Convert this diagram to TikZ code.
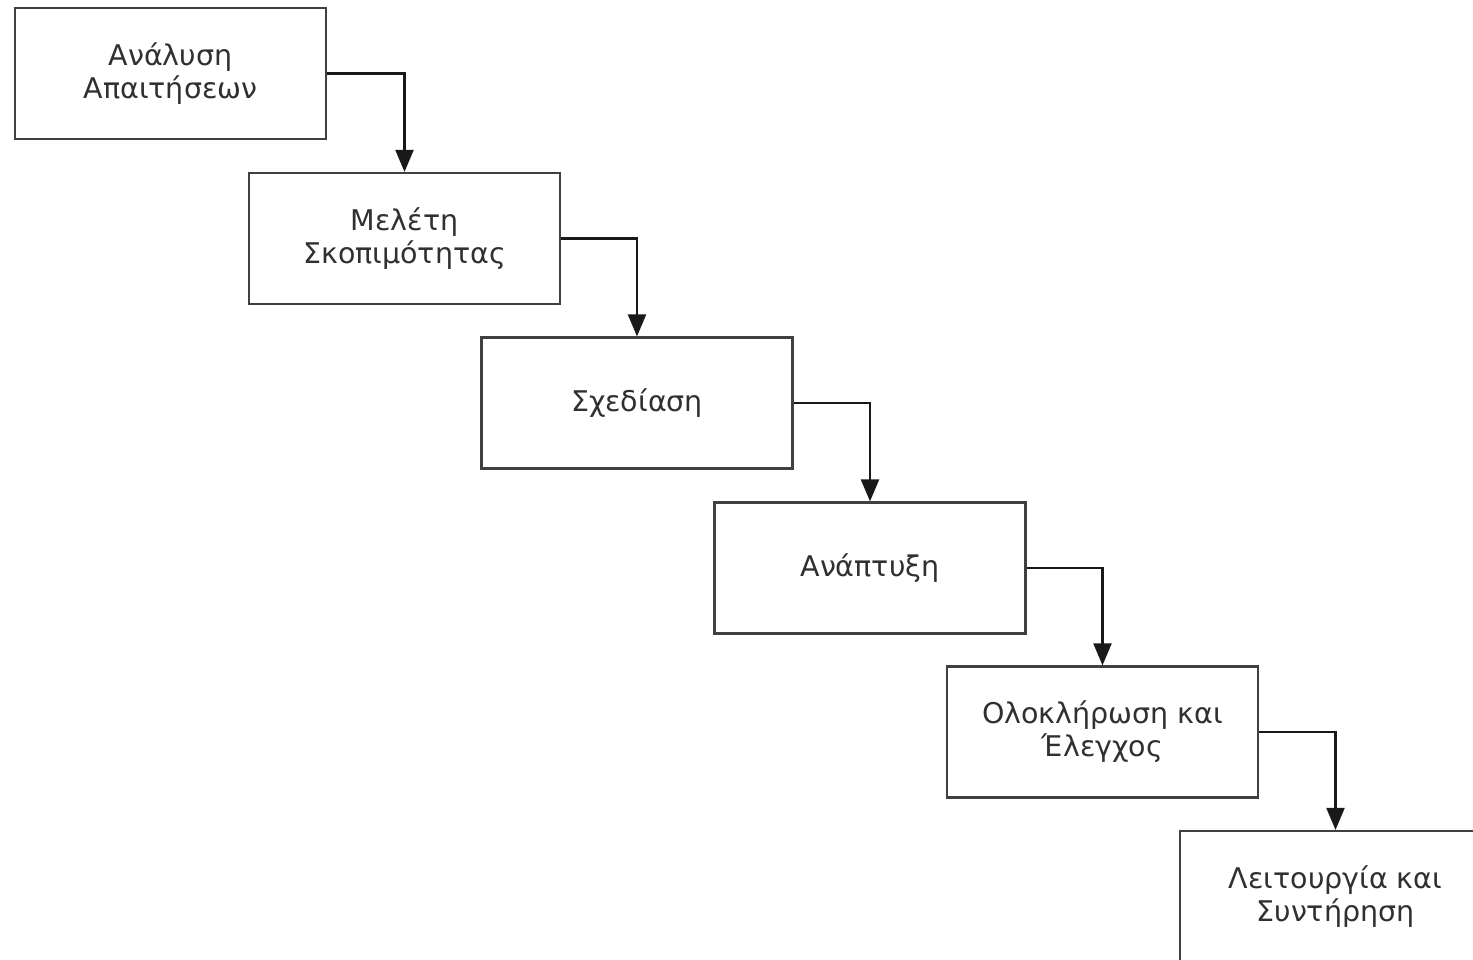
\documentclass[tikz,border=0pt]{standalone}
\usepackage{fontspec}
\setmainfont{DejaVu Sans}
\usetikzlibrary{arrows.meta}
\definecolor{edge}{HTML}{404040}
\definecolor{ink}{HTML}{303030}
\tikzset{
  stage/.style={draw=edge, line width=2.2pt, minimum width=311pt, minimum height=131pt,
    inner sep=0pt, align=center, text=ink, font=\fontsize{28.5}{33}\selectfont},
  flow/.style={draw=black!90, line width=2.2pt,
    -{Triangle[length=22pt,width=18pt]}}
}
\begin{document}
\begin{tikzpicture}[x=1pt,y=-1pt]
\useasboundingbox (0,0) rectangle (1473,960);
\fill[white] (0,0) rectangle (1473,960);
\clip (0,0) rectangle (1473,960);
\node[stage] (b1) at (170.5,73.5)  {Ανάλυση\\Απαιτήσεων};
\node[stage] (b2) at (404.5,238.5) {Μελέτη\\Σκοπιμότητας};
\node[stage] (b3) at (637,403)     {Σχεδίαση};
\node[stage] (b4) at (870,568)     {Ανάπτυξη};
\node[stage] (b5) at (1102.5,732)  {Ολοκλήρωση και\\Έλεγχος};
\node[stage] (b6) at (1335.5,896.5) {Λειτουργία και\\Συντήρηση};
\draw[flow] (b1.east) -| (b2.north);
\draw[flow] (b2.east) -| (b3.north);
\draw[flow] (b3.east) -| (b4.north);
\draw[flow] (b4.east) -| (b5.north);
\draw[flow] (b5.east) -| (b6.north);
\end{tikzpicture}
\end{document}
